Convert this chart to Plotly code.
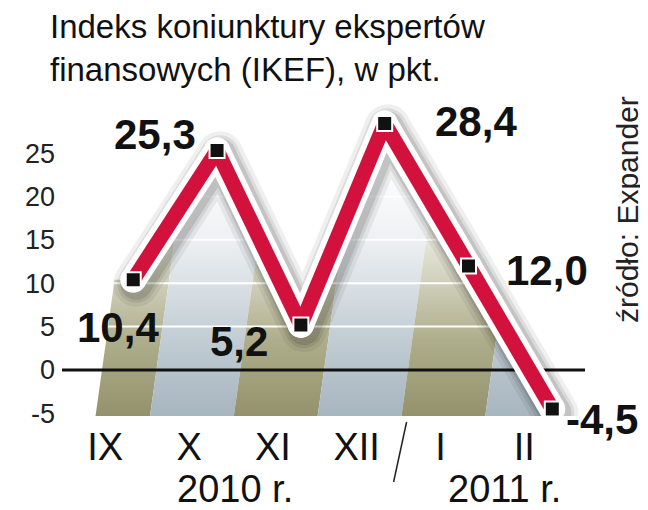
import plotly.graph_objects as go

# ---------------- data ----------------
months = ["IX", "X", "XI", "XII", "I", "II"]
values = [10.4, 25.3, 5.2, 28.4, 12.0, -4.5]
value_labels = ["10,4", "25,3", "5,2", "28,4", "12,0", "-4,5"]
y_ticks = [-5, 0, 5, 10, 15, 20, 25]
y_tick_text = ["-5", "0", "5", "10", "15", "20", "25"]
years = ["2010 r.", "2011 r."]
title_lines = ["Indeks koniunktury ekspertów", "finansowych (IKEF), w pkt."]
source_text = "źródło: Expander"

# ---------------- layout constants (screen pixels) ----------------
OFF = 8                      # page body margin of the html page
W, H = 648 - OFF, 510 - OFF  # figure size
SX0, SX1, SY0, SY1 = 62, 585, 101, 416   # plot area on screen
ML, MR = SX0 - OFF, W - (SX1 - OFF)
MT, MB = SY0 - OFF, H - (SY1 - OFF)
X_RANGE = [-0.85, 5.39]
Y_RANGE = [-5.3, 31.0]
PW, PH = SX1 - SX0, SY1 - SY0

def px2x(px):
    return (px - SX0) / PW

def py2y(py):
    return (SY1 - py) / PH

REG = "Liberation Sans, Arial, Helvetica, sans-serif"
RED = "#d2123c"

idx = list(range(len(months)))
fig = go.Figure()

# ---------------- striped gradient columns ----------------
SHEAR = 0.0145          # slant of the columns (category units per y unit)
olive_scale = [[0, "#93926c"], [0.3, "#afae8c"], [0.7, "#e9e9df"], [1, "#ffffff"]]
blue_scale = [[0, "#a7b5bf"], [0.3, "#c1ccd3"], [0.7, "#eef1f3"], [1, "#ffffff"]]
yb, yt = Y_RANGE[0], 29.0
for i in idx:
    left = -0.45 if i == 0 else i - 0.8
    right = i + 0.2 if i < len(idx) - 1 else X_RANGE[1] + 0.5
    sh = SHEAR * (yt - yb)
    fig.add_trace(go.Scatter(
        x=[left, right, right + sh, left + sh, left],
        y=[yb, yb, yt, yt, yb],
        mode="lines", line=dict(width=0), fill="toself",
        fillgradient=dict(type="vertical",
                          colorscale=olive_scale if i % 2 == 0 else blue_scale,
                          start=yb, stop=24),
        hoverinfo="skip", showlegend=False))

# white grid lines (visible only over the shaded area)
gx, gy = [], []
for t in y_ticks:
    if t > 0:
        gx += [X_RANGE[0], X_RANGE[1], None]
        gy += [t, t, None]
fig.add_trace(go.Scatter(x=gx, y=gy, mode="lines",
                         line=dict(color="white", width=2),
                         hoverinfo="skip", showlegend=False))

# white cover above the line (clips the shading to the area under the line)
top = Y_RANGE[1] + 5
cx = [X_RANGE[0] - 1, X_RANGE[0] - 1] + idx + [idx[-1], X_RANGE[1] + 1, X_RANGE[1] + 1]
cy = [top, values[0]] + values + [Y_RANGE[0] - 1, Y_RANGE[0] - 1, top]
fig.add_trace(go.Scatter(x=cx, y=cy, mode="lines", fill="toself",
                         fillcolor="white", line=dict(width=0),
                         hoverinfo="skip", showlegend=False))

# zero line
fig.add_trace(go.Scatter(x=[X_RANGE[0], X_RANGE[1]], y=[0, 0], mode="lines",
                         line=dict(color="#111", width=3),
                         hoverinfo="skip", showlegend=False))

# segmented line (avoids miter spikes at the peaks)
sx, sy = [], []
for i in range(len(idx) - 1):
    sx += [idx[i], idx[i + 1], None]
    sy += [values[i], values[i + 1], None]

dxs = 3 * (X_RANGE[1] - X_RANGE[0]) / PW
dys = 4 * (Y_RANGE[1] - Y_RANGE[0]) / PH
for wdt, op in [(46, 0.06), (38, 0.08), (32, 0.10)]:
    fig.add_trace(go.Scatter(
        x=[v + dxs if v is not None else None for v in sx],
        y=[v - dys if v is not None else None for v in sy],
        mode="lines+markers", opacity=op,
        line=dict(color="#000", width=wdt),
        marker=dict(symbol="circle", size=wdt, color="#000"),
        hoverinfo="skip", showlegend=False))

fig.add_trace(go.Scatter(x=sx, y=sy, mode="lines+markers",
                         line=dict(color="white", width=26),
                         marker=dict(symbol="circle", size=26, color="white"),
                         hoverinfo="skip", showlegend=False))
fig.add_trace(go.Scatter(x=sx, y=sy, mode="lines+markers",
                         line=dict(color=RED, width=15),
                         marker=dict(symbol="circle", size=15, color=RED),
                         hoverinfo="skip", showlegend=False))
fig.add_trace(go.Scatter(x=idx, y=values, mode="markers",
                         marker=dict(symbol="square", size=15, color="#111",
                                     line=dict(color="white", width=2)),
                         hoverinfo="skip", showlegend=False))

# ---------------- value labels ----------------
label_shift = [(-15, -48), (-62, 16), (-62, -17), (91, 2), (78, -5), (50, -10)]
for i, (lab, (xs_, ys_)) in enumerate(zip(value_labels, label_shift)):
    fig.add_annotation(x=idx[i], y=values[i], text=lab, showarrow=False,
                       xshift=xs_, yshift=ys_, xanchor="center", yanchor="middle",
                       font=dict(family=REG, size=42, color="#111", weight="bold"))

# ---------------- titles and texts ----------------
fig.add_annotation(xref="paper", yref="paper", x=px2x(48), y=py2y(27),
                   xanchor="left", yanchor="middle", text=title_lines[0],
                   showarrow=False, font=dict(family=REG, size=33, color="#111"))
fig.add_annotation(xref="paper", yref="paper", x=px2x(48), y=py2y(70),
                   xanchor="left", yanchor="middle", text=title_lines[1],
                   showarrow=False, font=dict(family=REG, size=33, color="#111"))
fig.add_annotation(xref="paper", yref="paper", x=px2x(627), y=py2y(210),
                   xanchor="center", yanchor="middle",
                   text=source_text, textangle=-90, showarrow=False,
                   font=dict(family=REG, size=30, color="#222"))
for yr, xc, xs_ in [(years[0], 1.5, -24), (years[1], 4.5, -6)]:
    fig.add_annotation(x=xc, xref="x", y=py2y(489), yref="paper", text=yr,
                       xshift=xs_, showarrow=False, xanchor="center", yanchor="middle",
                       font=dict(family=REG, size=38, color="#111"))

# slash between the years, top grey rule
fig.add_shape(type="line", xref="x", xsizemode="pixel", xanchor=3.5,
              x0=-20, x1=-33, yref="paper", y0=py2y(422), y1=py2y(482),
              line=dict(color="#222", width=1.5))
fig.add_shape(type="line", xref="paper", yref="paper", x0=px2x(0), x1=px2x(648),
              y0=py2y(1), y1=py2y(1), line=dict(color="#8a8a8a", width=2))

fig.update_layout(
    width=W, height=H, margin=dict(l=ML, r=MR, t=MT, b=MB),
    paper_bgcolor="white", plot_bgcolor="white", showlegend=False,
    xaxis=dict(range=X_RANGE, tickvals=idx, ticktext=months, showgrid=False,
               zeroline=False, showline=False, ticks="", ticklabelshift=-28,
               ticklabelstandoff=5, automargin=False,
               tickfont=dict(family=REG, size=38, color="#111")),
    yaxis=dict(range=Y_RANGE, tickvals=y_ticks, ticktext=y_tick_text,
               showgrid=False, zeroline=False, automargin=False,
               showline=False, ticks="", ticklabelstandoff=6,
               tickfont=dict(family=REG, size=27, color="#222")),
)

fig.write_html("out.html")
